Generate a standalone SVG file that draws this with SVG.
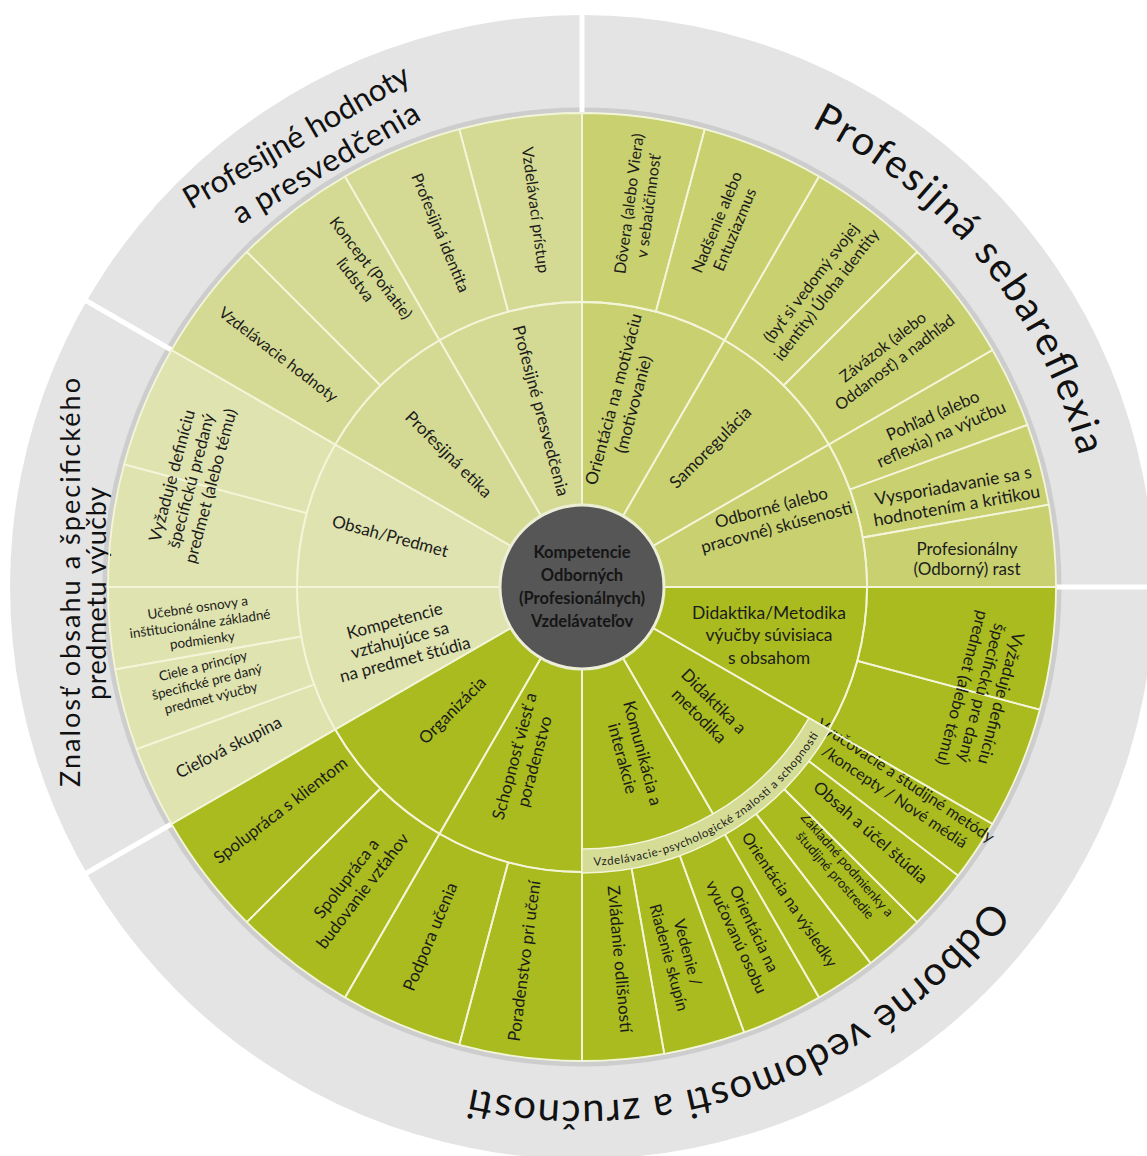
<svg xmlns="http://www.w3.org/2000/svg" width="1147" height="1156" viewBox="0 0 1147 1156">
<style>
.t{font-family:Lato,'Liberation Sans',sans-serif;font-size:16px;fill:#1c1c1c;text-anchor:middle}
.s13{font-size:13.5px}
.s16{font-size:17px}
.big{font-family:Lato,'Liberation Sans',sans-serif;font-size:40px;fill:#111}
.lab{font-family:Lato,'Liberation Sans',sans-serif;font-size:31px;fill:#111;text-anchor:middle}
.lab2{font-family:Lato,'Liberation Sans',sans-serif;font-size:27px;fill:#111;text-anchor:middle}
.cell{fill:none;stroke:#f3f5d8;stroke-width:1.8;stroke-linejoin:round}
.sep{stroke:#fff;stroke-width:5}
.ctr{font-family:Lato,'Liberation Sans',sans-serif;font-size:16.5px;font-weight:bold;fill:#151515;text-anchor:middle}
</style>
<defs>
<path id="p1" d="M811.3,127 A514,514 0 0 1 1084.8,480.1"/>
<path id="p2" d="M989.8,899.9 A514,514 0 0 1 457.7,1085.7"/>
<path id="p3" d="M586.9,866 A279,279 0 0 0 821.2,730.7"/>
</defs>
<rect width="1147" height="1156" fill="#fff"/>
<g id="ring">
<circle cx="582" cy="587" r="572" fill="#e4e4e4"/>
<circle cx="582" cy="587" r="477" fill="none" stroke="#cdcdcd" stroke-width="5"/>
</g>
<g id="separators">
<line class="sep" x1="582" y1="113" x2="582" y2="5"/>
<line class="sep" x1="1056" y1="587" x2="1147" y2="587"/>
<line class="sep" x1="171.5" y1="350" x2="78" y2="296"/>
<line class="sep" x1="171.5" y1="824" x2="78" y2="878"/>
</g>
<g id="backgrounds">
<path d="M582,587 L1056,587 A474,474 0 0 0 582,113 Z" fill="#c8d06f"/>
<path d="M582,587 L582,113 A474,474 0 0 0 171.5,350 Z" fill="#d4da93"/>
<path d="M582,587 L171.5,350 A474,474 0 0 0 171.5,824 Z" fill="#dfe3af"/>
<path d="M582,587 L171.5,824 A474,474 0 0 0 1056,587 Z" fill="#a9bb1e"/>
</g>
<g id="group-labels">
<text class="big"><textPath href="#p1" textLength="437" lengthAdjust="spacing">Profesijná  sebareflexia</textPath></text>
<text class="big"><textPath href="#p2" textLength="583" lengthAdjust="spacing">Odborné vedomosti a zručnosti</textPath></text>
<text class="lab" transform="translate(301.5,146) rotate(-30)" textLength="256" lengthAdjust="spacing">Profesijné hodnoty</text>
<text class="lab" transform="translate(331,172) rotate(-30)" textLength="211" lengthAdjust="spacing">a presvedčenia</text>
<text class="lab2" transform="translate(80,582.5) rotate(-90)" textLength="409" lengthAdjust="spacing">Znalosť obsahu a špecifického</text>
<text class="lab2" transform="translate(106,593.5) rotate(-90)" textLength="213" lengthAdjust="spacing">predmetu výučby</text>
</g>
<!-- outer ring cells -->
<g id="o-rast"><path class="cell" d="M1056,587 A474,474 0 0 0 1048.8,504.7 L862.7,537.5 A285,285 0 0 1 867,587 Z"/>
<text class="t s16" transform="translate(967,559)"><tspan x="0" y="-4.5">Profesionálny</tspan><tspan x="0" y="16">(Odborný) rast</tspan></text></g>
<g id="o-vysporiadavanie"><path class="cell" d="M1048.8,504.7 A474,474 0 0 0 1027.4,424.9 L849.8,489.5 A285,285 0 0 1 862.7,537.5 Z"/>
<text class="t" style="font-size:17.5px" transform="translate(955,496) rotate(-10)"><tspan x="0" y="-4.5">Vysporiadavanie sa s</tspan><tspan x="0" y="16">hodnotením a kritikou</tspan></text></g>
<g id="o-pohlad"><path class="cell" d="M1027.4,424.9 A474,474 0 0 0 992.5,350 L828.8,444.5 A285,285 0 0 1 849.8,489.5 Z"/>
<text class="t s16" transform="translate(937,425) rotate(-24)"><tspan x="0" y="-4.5">Pohľad (alebo</tspan><tspan x="0" y="16">reflexia) na výučbu</tspan></text></g>
<g id="o-zavazok"><path class="cell" d="M992.5,350 A474,474 0 0 0 917.2,251.8 L783.5,385.5 A285,285 0 0 1 828.8,444.5 Z"/>
<text class="t" transform="translate(889,355) rotate(-37.5)"><tspan x="0" y="-4.5">Závázok (alebo</tspan><tspan x="0" y="15">Oddanosť) a nadhľad</tspan></text></g>
<g id="o-identita-uloha"><path class="cell" d="M917.2,251.8 A474,474 0 0 0 819,176.5 L724.5,340.2 A285,285 0 0 1 783.5,385.5 Z"/>
<text class="t" transform="translate(819,289) rotate(-52.5)"><tspan x="0" y="-4.5">(byť si vedomý svojej</tspan><tspan x="0" y="15">identity) Úloha identity</tspan></text></g>
<g id="o-nadsenie"><path class="cell" d="M819,176.5 A474,474 0 0 0 704.7,129.2 L655.8,311.7 A285,285 0 0 1 724.5,340.2 Z"/>
<text class="t" transform="translate(726,226) rotate(-67.5)"><tspan x="0" y="-4.5">Nadšenie alebo</tspan><tspan x="0" y="15">Entuziazmus</tspan></text></g>
<g id="o-dovera"><path class="cell" d="M704.7,129.2 A474,474 0 0 0 582,113 L582,302 A285,285 0 0 1 655.8,311.7 Z"/>
<text class="t" transform="translate(639,205) rotate(-82.5)"><tspan x="0" y="-4.5">Dôvera (alebo Viera)</tspan><tspan x="0" y="15">v sebaúčinnosť</tspan></text></g>
<g id="o-pristup"><path class="cell" d="M582,113 A474,474 0 0 0 459.3,129.2 L508.2,311.7 A285,285 0 0 1 582,302 Z"/>
<text class="t" transform="translate(535,210) rotate(82.5)"><tspan x="0" y="5">Vzdelávací prístup</tspan></text></g>
<g id="o-prof-identita"><path class="cell" d="M459.3,129.2 A474,474 0 0 0 345,176.5 L439.5,340.2 A285,285 0 0 1 508.2,311.7 Z"/>
<text class="t" transform="translate(440,233) rotate(67.5)"><tspan x="0" y="5">Profesijná identita</tspan></text></g>
<g id="o-koncept"><path class="cell" d="M345,176.5 A474,474 0 0 0 246.8,251.8 L380.5,385.5 A285,285 0 0 1 439.5,340.2 Z"/>
<text class="t" transform="translate(363,274) rotate(52.5)"><tspan x="0" y="-4.5">Koncept (Poňatie)</tspan><tspan x="0" y="15">ľudstva</tspan></text></g>
<g id="o-hodnoty"><path class="cell" d="M246.8,251.8 A474,474 0 0 0 171.5,350 L335.2,444.5 A285,285 0 0 1 380.5,385.5 Z"/>
<text class="t" transform="translate(278,355) rotate(37.5)"><tspan x="0" y="5">Vzdelávacie hodnoty</tspan></text></g>
<g id="o-definicia-obsah"><path class="cell" d="M171.5,350 A474,474 0 0 0 124.2,464.3 L306.7,513.2 A285,285 0 0 1 335.2,444.5 Z"/>
<path class="cell" d="M124.2,464.3 A474,474 0 0 0 108,587 L297,587 A285,285 0 0 1 306.7,513.2 Z"/>
<text class="t s16" transform="translate(192,481) rotate(-75)"><tspan x="0" y="-15">Vyžaduje definíciu</tspan><tspan x="0" y="5">špecifickú predaný</tspan><tspan x="0" y="25">predmet (alebo tému)</tspan></text></g>
<g id="o-osnovy"><path class="cell" d="M108,587 A474,474 0 0 0 115.2,669.3 L301.3,636.5 A285,285 0 0 1 297,587 Z"/>
<text class="t s13" transform="translate(200,624) rotate(-8)"><tspan x="0" y="-12">Učebné osnovy a</tspan><tspan x="0" y="4.5">inštitucionálne základné</tspan><tspan x="0" y="21">podmienky</tspan></text></g>
<g id="o-ciele"><path class="cell" d="M115.2,669.3 A474,474 0 0 0 136.6,749.1 L314.2,684.5 A285,285 0 0 1 301.3,636.5 Z"/>
<text class="t s13" transform="translate(207,682) rotate(-14)"><tspan x="0" y="-12">Ciele a princípy</tspan><tspan x="0" y="4.5">špecifické pre daný</tspan><tspan x="0" y="21">predmet výučby</tspan></text></g>
<g id="o-skupina"><path class="cell" d="M136.6,749.1 A474,474 0 0 0 171.5,824 L335.2,729.5 A285,285 0 0 1 314.2,684.5 Z"/>
<text class="t s16" transform="translate(229,748) rotate(-27)"><tspan x="0" y="5">Cieľová skupina</tspan></text></g>
<g id="o-klient"><path class="cell" d="M171.5,824 A474,474 0 0 0 246.8,922.2 L380.5,788.5 A285,285 0 0 1 335.2,729.5 Z"/>
<text class="t s16" transform="translate(281,811) rotate(-37.5)"><tspan x="0" y="5">Spolupráca s klientom</tspan></text></g>
<g id="o-vztahy"><path class="cell" d="M246.8,922.2 A474,474 0 0 0 345,997.5 L439.5,833.8 A285,285 0 0 1 380.5,788.5 Z"/>
<text class="t s16" transform="translate(355,885) rotate(-52.5)"><tspan x="0" y="-5">Spolupráca a</tspan><tspan x="0" y="15.5">budovanie vzťahov</tspan></text></g>
<g id="o-podpora"><path class="cell" d="M345,997.5 A474,474 0 0 0 459.3,1044.8 L508.2,862.3 A285,285 0 0 1 439.5,833.8 Z"/>
<text class="t s16" transform="translate(431,937) rotate(-67.5)"><tspan x="0" y="5">Podpora učenia</tspan></text></g>
<g id="o-poradenstvo"><path class="cell" d="M459.3,1044.8 A474,474 0 0 0 582,1061 L582,872 A285,285 0 0 1 508.2,862.3 Z"/>
<text class="t s16" transform="translate(525,961) rotate(-82.5)"><tspan x="0" y="5">Poradenstvo pri učení</tspan></text></g>
<g id="o-odlisnosti"><path class="cell" d="M582,1061 A474,474 0 0 0 664.3,1053.8 L631.5,867.7 A285,285 0 0 1 582,872 Z"/>
<text class="t s16" transform="translate(619,959) rotate(85)"><tspan x="0" y="5">Zvládanie odlišností</tspan></text></g>
<g id="o-vedenie"><path class="cell" d="M664.3,1053.8 A474,474 0 0 0 744.1,1032.4 L679.5,854.8 A285,285 0 0 1 631.5,867.7 Z"/>
<text class="t" transform="translate(678,955) rotate(75)"><tspan x="0" y="-4.5">Vedenie /</tspan><tspan x="0" y="15">Riadenie skupín</tspan></text></g>
<g id="o-osoba"><path class="cell" d="M744.1,1032.4 A474,474 0 0 0 819,997.5 L724.5,833.8 A285,285 0 0 1 679.5,854.8 Z"/>
<text class="t" transform="translate(745,933) rotate(65)"><tspan x="0" y="-4.5">Orientácia na</tspan><tspan x="0" y="15">vyučovanú osobu</tspan></text></g>
<g id="o-vysledky"><path class="cell" d="M819,997.5 A474,474 0 0 0 870.6,963.1 L755.5,813.1 A285,285 0 0 1 724.5,833.8 Z"/>
<text class="t" transform="translate(789,900) rotate(56.25)"><tspan x="0" y="5">Orientácia na výsledky</tspan></text></g>
<g id="o-podmienky"><path class="cell" d="M870.6,963.1 A474,474 0 0 0 917.2,922.2 L783.5,788.5 A285,285 0 0 1 755.5,813.1 Z"/>
<text class="t s13" transform="translate(841,870) rotate(48.75)"><tspan x="0" y="-3.5">Základné podmienky a</tspan><tspan x="0" y="12.5">študijné prostredie</tspan></text></g>
<g id="o-ucel"><path class="cell" d="M917.2,922.2 A474,474 0 0 0 958.1,875.6 L808.1,760.5 A285,285 0 0 1 783.5,788.5 Z"/>
<text class="t s16" transform="translate(870,833) rotate(41.25)"><tspan x="0" y="5">Obsah a účel štúdia</tspan></text></g>
<g id="o-metody"><path class="cell" d="M958.1,875.6 A474,474 0 0 0 992.5,824 L828.8,729.5 A285,285 0 0 1 808.1,760.5 Z"/>
<text class="t" transform="translate(900,789) rotate(33.75)"><tspan x="0" y="-4.5">Vyučovacie a študijné metódy</tspan><tspan x="0" y="15">/koncepty / Nové médiá</tspan></text></g>
<g id="o-definicia-didaktika"><path class="cell" d="M992.5,824 A474,474 0 0 0 1039.8,709.7 L857.3,660.8 A285,285 0 0 1 828.8,729.5 Z"/>
<path class="cell" d="M1039.8,709.7 A474,474 0 0 0 1056,587 L867,587 A285,285 0 0 1 857.3,660.8 Z"/>
<text class="t s16" transform="translate(981,693) rotate(105)"><tspan x="0" y="-15">Vyžaduje definíciu</tspan><tspan x="0" y="5">špecifickú pre daný</tspan><tspan x="0" y="25">predmet (alebo tému)</tspan></text></g>
<!-- inner ring cells -->
<g id="i-skusenosti"><path class="cell" d="M582,587 L867,587 A285,285 0 0 0 828.8,444.5 Z"/>
<text class="t s16" transform="translate(774,518) rotate(-15)"><tspan x="0" y="-5">Odborné (alebo</tspan><tspan x="0" y="15.5">pracovné) skúsenosti</tspan></text></g>
<g id="i-samoregulacia"><path class="cell" d="M582,587 L828.8,444.5 A285,285 0 0 0 724.5,340.2 Z"/>
<text class="t s16" transform="translate(711,448) rotate(-45)"><tspan x="0" y="5">Samoregulácia</tspan></text></g>
<g id="i-motivacia"><path class="cell" d="M582,587 L724.5,340.2 A285,285 0 0 0 582,302 Z"/>
<text class="t s16" transform="translate(624,402) rotate(-75)"><tspan x="0" y="-5">Orientácia na motiváciu</tspan><tspan x="0" y="15.5">(motivovanie)</tspan></text></g>
<g id="i-presvedcenia"><path class="cell" d="M582,587 L582,302 A285,285 0 0 0 439.5,340.2 Z"/>
<text class="t s16" transform="translate(540,411) rotate(75)"><tspan x="0" y="5">Profesijné presvedčenia</tspan></text></g>
<g id="i-etika"><path class="cell" d="M582,587 L439.5,340.2 A285,285 0 0 0 335.2,444.5 Z"/>
<text class="t s16" transform="translate(448,455) rotate(45)"><tspan x="0" y="5">Profesijná etika</tspan></text></g>
<g id="i-obsah"><path class="cell" d="M582,587 L335.2,444.5 A285,285 0 0 0 297,587 Z"/>
<text class="t s16" transform="translate(390,537) rotate(15)"><tspan x="0" y="5">Obsah/Predmet</tspan></text></g>
<g id="i-kompetencie"><path class="cell" d="M582,587 L297,587 A285,285 0 0 0 335.2,729.5 Z"/>
<text class="t s16" transform="translate(400,641) rotate(-15)"><tspan x="0" y="-15">Kompetencie</tspan><tspan x="0" y="5">vzťahujúce sa</tspan><tspan x="0" y="25">na predmet štúdia</tspan></text></g>
<g id="i-organizacia"><path class="cell" d="M582,587 L335.2,729.5 A285,285 0 0 0 439.5,833.8 Z"/>
<text class="t s16" transform="translate(453,711) rotate(-45)"><tspan x="0" y="5">Organizácia</tspan></text></g>
<g id="i-schopnost"><path class="cell" d="M582,587 L439.5,833.8 A285,285 0 0 0 582,872 Z"/>
<text class="t s16" transform="translate(525,759) rotate(-75)"><tspan x="0" y="-5">Schopnosť viesť a</tspan><tspan x="0" y="15.5">poradenstvo</tspan></text></g>
<g id="i-komunikacia"><path class="cell" d="M582,587 L582,872 A285,285 0 0 0 724.5,833.8 Z"/>
<text class="t s16" transform="translate(632,756) rotate(75)"><tspan x="0" y="-5">Komunikácia a</tspan><tspan x="0" y="15.5">interakcie</tspan></text></g>
<g id="i-didaktika"><path class="cell" d="M582,587 L724.5,833.8 A285,285 0 0 0 828.8,729.5 Z"/>
<text class="t s16" transform="translate(706,709) rotate(45)"><tspan x="0" y="-5">Didaktika a</tspan><tspan x="0" y="15.5">metodika</tspan></text></g>
<g id="i-didaktika-obsah"><path class="cell" d="M582,587 L828.8,729.5 A285,285 0 0 0 867,587 Z"/>
<text class="t" style="font-size:17.5px" transform="translate(769,635)"><tspan x="0" y="-16.5">Didaktika/Metodika</tspan><tspan x="0" y="6">výučby súvisiaca</tspan><tspan x="0" y="28.5">s obsahom</tspan></text></g>
<g id="band">
<path d="M582,873 A286,286 0 0 0 829.7,730 L808.9,718 A262,262 0 0 1 582,849 Z" fill="#d5dc96" stroke="#f3f5d8" stroke-width="1.5"/>
<text class="t" style="font-size:11.5px;text-anchor:start"><textPath href="#p3" startOffset="7" textLength="270" lengthAdjust="spacing">Vzdelávacie-psychologické znalosti a schopnosti</textPath></text>
</g>
<g id="center">
<circle cx="582" cy="587" r="82" fill="#565656" stroke="#eceed6" stroke-width="3"/>
<text class="ctr"><tspan x="582" y="558">Kompetencie</tspan><tspan x="582" y="581">Odborných</tspan><tspan x="582" y="604">(Profesionálnych)</tspan><tspan x="582" y="627">Vzdelávateľov</tspan></text>
</g>
</svg>
